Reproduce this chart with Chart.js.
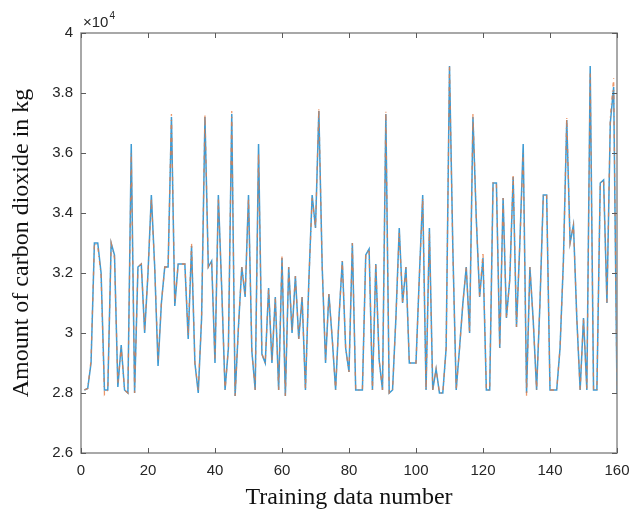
<!DOCTYPE html>
<html>
<head>
<meta charset="utf-8">
<script src="https://cdn.jsdelivr.net/npm/chart.js@4"></script>
<style>
  html, body { margin: 0; padding: 0; background: #ffffff; }
  #wrap { width: 633px; height: 518px; }
</style>
</head>
<body>
<div id="wrap"><canvas id="c" width="633" height="518"></canvas></div>
<script>
// Training data number (categories)
const sampleNumbers = [
  1,2,3,4,5,6,7,8,9,10,11,12,13,14,15,16,17,18,19,20,
  21,22,23,24,25,26,27,28,29,30,31,32,33,34,35,36,37,38,39,40,
  41,42,43,44,45,46,47,48,49,50,51,52,53,54,55,56,57,58,59,60,
  61,62,63,64,65,66,67,68,69,70,71,72,73,74,75,76,77,78,79,80,
  81,82,83,84,85,86,87,88,89,90,91,92,93,94,95,96,97,98,99,100,
  101,102,103,104,105,106,107,108,109,110,111,112,113,114,115,116,117,118,119,120,
  121,122,123,124,125,126,127,128,129,130,131,132,133,134,135,136,137,138,139,140,
  141,142,143,144,145,146,147,148,149,150,151,152,153,154,155,156,157,158,159,160
];

// Series 1 (blue, solid) – amount of CO2 in kg
const actualValues = [
  28100,28150,29000,33000,33000,32000,28100,28100,33000,32600,
  28200,29600,28100,28000,36300,28000,32200,32300,30000,32000,
  34600,32200,28900,31000,32200,32200,37200,30900,32300,32300,
  32300,29800,32900,29000,28000,30500,37200,32200,32400,29000,
  34600,31500,28100,29500,37300,27900,30200,32200,31200,34600,
  29400,28100,36300,29300,29000,31500,29000,31200,28100,32500,
  27900,32200,30000,31900,29800,31200,28100,31700,34600,33500,
  37400,32200,29000,31300,29800,28100,30500,32400,29500,28700,
  33000,28100,28100,28100,32600,32800,28100,32300,29100,28100,
  37300,28000,28100,30500,33500,31000,32200,29000,29000,29000,
  31900,34600,28100,33500,28100,28800,28000,28000,29500,38900,
  32800,28100,29500,31000,32200,30000,37200,33800,31200,32500,
  28100,28100,35000,35000,29500,34500,30500,31800,35200,30200,
  33000,36300,28000,32200,30400,28100,31000,34600,34600,28100,
  28100,28100,29500,32400,37100,33000,33600,30500,28100,30500,
  28100,38900,28100,28100,35000,35100,31000,37000,38200,28000
];

// Series 2 (orange, dash-dot) – amount of CO2 in kg
const predictedValues = [
  28100,28150,29100,33000,32900,31900,27950,28100,33000,32500,
  28300,29500,28100,28000,36000,28000,32200,32300,30100,32000,
  34500,32200,29100,31000,32200,32200,37300,31000,32300,32300,
  32300,29900,33000,29000,28100,30500,37300,32200,32400,29100,
  34500,31500,28100,29500,37400,27900,30200,32200,31300,34500,
  29400,28100,36000,29300,29000,31500,29100,31200,28100,32600,
  27900,32200,30100,31900,29800,31200,28100,31700,34500,33500,
  37500,32200,29100,31300,29800,28100,30500,32400,29500,28700,
  33000,28100,28100,28100,32600,32800,28100,32300,29100,28100,
  37400,28000,28100,30500,33400,31000,32200,29000,29000,29000,
  31900,34500,28100,33400,28100,28800,28000,28000,29500,38900,
  32700,28100,29500,31000,32200,30000,37300,33800,31200,32700,
  28100,28100,35000,35000,29500,34500,30500,31800,35300,30200,
  33000,36000,27900,32200,30400,28100,31000,34600,34600,28100,
  28100,28100,29500,32400,37200,33000,33600,30500,28100,30500,
  28100,38700,28100,28100,35000,35100,31000,37200,38500,28000
];

const xTickValues = [0,20,40,60,80,100,120,140,160];
const yTickValues = [26000,28000,30000,32000,34000,36000,38000,40000];

const boxPlugin = {
  id: 'matlabBox',
  afterDatasetsDraw(chart) {
    const ctx = chart.ctx;
    const a = chart.chartArea;
    const xs = chart.scales.x, ys = chart.scales.y;
    ctx.save();
    ctx.strokeStyle = '#8c8c8c';
    ctx.lineWidth = 1.5;
    ctx.strokeRect(a.left, a.top, a.right - a.left, a.bottom - a.top);
    ctx.strokeStyle = '#5a5a5a';
    ctx.lineWidth = 1;
    const tl = 5;
    xs.ticks.forEach((t, i) => {
      const px = Math.round(xs.getPixelForTick(i)) + 0.5;
      ctx.beginPath();
      ctx.moveTo(px, a.bottom); ctx.lineTo(px, a.bottom - tl);
      ctx.moveTo(px, a.top); ctx.lineTo(px, a.top + tl);
      ctx.stroke();
    });
    ys.ticks.forEach((t, i) => {
      const py = Math.round(ys.getPixelForTick(i)) + 0.5;
      ctx.beginPath();
      ctx.moveTo(a.left, py); ctx.lineTo(a.left + tl, py);
      ctx.moveTo(a.right, py); ctx.lineTo(a.right - tl, py);
      ctx.stroke();
    });
    // exponent label
    ctx.fillStyle = '#262626';
    ctx.textBaseline = 'alphabetic';
    ctx.textAlign = 'left';
    ctx.font = '15px "Liberation Sans", Arial, sans-serif';
    const base = '\u00d710';
    const bx = a.left + 2, by = a.top - 6;
    ctx.fillText(base, bx, by);
    const w = ctx.measureText(base).width;
    ctx.font = '10px "Liberation Sans", Arial, sans-serif';
    ctx.fillText('4', bx + w + 1, by - 8);
    ctx.restore();
  }
};

new Chart(document.getElementById('c'), {
  type: 'line',
  data: {
    datasets: [
      {
        label: 'Actual',
        data: sampleNumbers.map((n, i) => ({ x: n, y: actualValues[i] })),
        borderColor: '#3f9bd3',
        borderWidth: 1.5,
        pointRadius: 0,
        tension: 0,
        fill: false,
        order: 2
      },
      {
        label: 'Predicted',
        data: sampleNumbers.map((n, i) => ({ x: n, y: predictedValues[i] })),
        borderColor: 'rgba(230,125,70,0.8)',
        borderWidth: 1.3,
        borderDash: [4, 4, 1, 4],
        pointRadius: 0,
        tension: 0,
        fill: false,
        order: 1
      }
    ]
  },
  options: {
    responsive: false,
    animation: false,
    devicePixelRatio: 1,
    layout: { padding: { top: 33, right: 16, left: 0, bottom: 0 } },
    plugins: { legend: { display: false }, tooltip: { enabled: false } },
    scales: {
      x: {
        type: 'linear',
        min: 0, max: 160,
        afterBuildTicks: (s) => { s.ticks = xTickValues.map(v => ({ value: v })); },
        afterFit: (s) => { s.height = 65; s.paddingLeft = 0; s.paddingRight = 0; },
        grid: { display: false, drawTicks: false },
        border: { display: false },
        ticks: {
          padding: 9,
          color: '#262626',
          font: { family: '"Liberation Sans", Arial, sans-serif', size: 15 },
          maxRotation: 0,
          callback: (v) => String(v)
        },
        title: {
          display: true,
          text: 'Training data number',
          color: '#111111',
          font: { family: '"Liberation Serif", "Times New Roman", serif', size: 24 },
          padding: { top: 0, bottom: 6 }
        }
      },
      y: {
        type: 'linear',
        min: 26000, max: 40000,
        afterBuildTicks: (s) => { s.ticks = yTickValues.map(v => ({ value: v })); },
        afterFit: (s) => { s.width = 81; s.paddingTop = 0; s.paddingBottom = 0; },
        grid: { display: false, drawTicks: false },
        border: { display: false },
        ticks: {
          padding: 8,
          color: '#262626',
          font: { family: '"Liberation Sans", Arial, sans-serif', size: 15 },
          callback: (v) => String(Number((v / 10000).toFixed(1)))
        },
        title: {
          display: true,
          text: 'Amount of carbon dioxide in kg',
          color: '#111111',
          font: { family: '"Liberation Serif", "Times New Roman", serif', size: 24 },
          padding: { top: 7, bottom: 0 }
        }
      }
    }
  },
  plugins: [boxPlugin]
});
</script>
</body>
</html>
